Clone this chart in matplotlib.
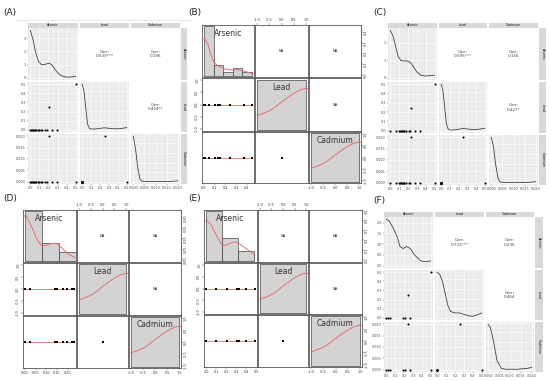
import numpy as np
import matplotlib.pyplot as plt
from matplotlib.ticker import AutoMinorLocator, FormatStrFormatter
from matplotlib.lines import Line2D

W, H = 550, 381
VARS = ["Arsenic", "Lead", "Cadmium"]

# ---------------- ggpairs panels (A, C, F) ----------------
# panel A
a_arsenic = [0.00, 0.01, 0.02, 0.03, 0.04, 0.05, 0.06, 0.08, 0.10, 0.12, 0.13, 0.16, 0.18, 0.21, 0.24, 0.29, 0.50]
a_lead    = [0, 0, 0, 0, 0, 0, 0, 0, 0, 0, 0, 0, 0, 0.25, 0, 0, 0.50]
a_cadmium = [0, 0, 0, 0, 0, 0, 0, 0, 0, 0, 0, 0, 0, 0.020, 0, 0, 0]
a_as_kx = [0.00, 0.03, 0.06, 0.09, 0.12, 0.15, 0.18, 0.21, 0.24, 0.27, 0.30, 0.34, 0.38, 0.42, 0.46, 0.50]
a_as_ky = [3.6, 2.9, 1.9, 1.25, 1.0, 0.98, 1.05, 1.1, 0.95, 0.65, 0.38, 0.15, 0.06, 0.04, 0.05, 0.1]
a_pb_kx = [0.00, 0.02, 0.04, 0.06, 0.08, 0.10, 0.15, 0.20, 0.25, 0.30, 0.35, 0.40, 0.45, 0.50]
a_pb_ky = [9.5, 8.0, 4.5, 1.2, 0.3, 0.15, 0.15, 0.3, 0.4, 0.3, 0.2, 0.2, 0.3, 0.45]
a_cd_kx = [0.000, 0.001, 0.002, 0.003, 0.004, 0.005, 0.0075, 0.010, 0.0125, 0.015, 0.0175, 0.020]
a_cd_ky = [950, 700, 300, 60, 10, 3, 2, 2, 2, 3, 8, 18]
a_corr = ["Corr:\n0.539***", "Corr:\n0.196", "Corr:\n0.424**"]

# panel C
c_arsenic = [0.00, 0.06, 0.10, 0.11, 0.12, 0.13, 0.14, 0.15, 0.16, 0.18, 0.21, 0.22, 0.23, 0.28, 0.33, 0.50]
c_lead    = [0, 0, 0, 0, 0, 0, 0, 0, 0, 0, 0, 0, 0.25, 0, 0, 0.50]
c_cadmium = [0, 0, 0, 0, 0, 0, 0, 0, 0, 0, 0, 0, 0.020, 0, 0, 0]
c_as_kx = [0.00, 0.03, 0.06, 0.09, 0.12, 0.15, 0.18, 0.21, 0.24, 0.27, 0.30, 0.34, 0.38, 0.42, 0.46, 0.50]
c_as_ky = [2.7, 2.4, 1.8, 1.2, 0.98, 0.95, 0.96, 0.92, 0.78, 0.55, 0.32, 0.15, 0.1, 0.1, 0.12, 0.15]
c_pb_kx = [0.00, 0.02, 0.04, 0.06, 0.08, 0.10, 0.15, 0.20, 0.25, 0.30, 0.35, 0.40, 0.45, 0.50]
c_pb_ky = [9.5, 8.2, 4.8, 1.4, 0.35, 0.15, 0.15, 0.3, 0.45, 0.35, 0.25, 0.25, 0.35, 0.5]
c_cd_kx = [0.000, 0.001, 0.002, 0.003, 0.004, 0.005, 0.0075, 0.010, 0.0125, 0.015, 0.0175, 0.020]
c_cd_ky = [950, 760, 380, 100, 20, 5, 2, 2, 2, 4, 10, 22]
c_corr = ["Corr:\n0.595***", "Corr:\n0.156", "Corr:\n0.427*"]

# panel F
f_arsenic = [0.00, 0.02, 0.045, 0.19, 0.21, 0.24, 0.27, 0.50]
f_lead    = [0, 0, 0, 0, 0, 0.25, 0, 0.50]
f_cadmium = [0, 0, 0, 0, 0, 0.020, 0, 0]
f_as_kx = [0.00, 0.03, 0.06, 0.09, 0.12, 0.155, 0.19, 0.23, 0.27, 0.32, 0.38, 0.41, 0.45, 0.50]
f_as_ky = [2.16, 2.1, 1.9, 1.65, 1.37, 0.89, 0.8, 0.89, 0.8, 0.49, 0.25, 0.2, 0.2, 0.22]
f_pb_kx = [0.00, 0.03, 0.06, 0.09, 0.12, 0.15, 0.20, 0.25, 0.30, 0.35, 0.40, 0.45, 0.50]
f_pb_ky = [9.5, 9.0, 7.5, 5.0, 2.5, 1.3, 1.0, 1.0, 0.7, 0.4, 0.3, 0.6, 1.0]
f_cd_kx = [0.000, 0.001, 0.0025, 0.004, 0.006, 0.008, 0.010, 0.013, 0.016, 0.018, 0.020]
f_cd_ky = [97, 90, 60, 20, 3, 1, 1, 1, 2, 3, 5]
f_corr = ["Corr:\n0.733***", "Corr:\n0.236", "Corr:\n0.464"]

gg_ticks = [[0.0, 0.1, 0.2, 0.3, 0.4, 0.5],
            [0.0, 0.1, 0.2, 0.3, 0.4, 0.5],
            [0.000, 0.005, 0.010, 0.015, 0.020]]
gg_fmts = ["%.1f", "%.1f", "%.3f"]
a_dens_ticks = [0, 1, 2, 3]
c_dens_ticks = [0, 1, 2]
f_dens_ticks = [0.0, 0.5, 1.0, 1.5, 2.0]

# ---------------- psych pairs.panels (B, D, E) ----------------
b_arsenic = [0.0, 0.01, 0.045, 0.10, 0.13, 0.15, 0.24, 0.37, 0.45]
b_lead = [0] * 9
b_cadmium = [0] * 9
b_hist_edges = [0.0, 0.09, 0.18, 0.27, 0.36, 0.45]
b_hist_h = [1.0, 0.22, 0.08, 0.15, 0.07]
b_dens_x = [-0.019, 0.006, 0.037, 0.069, 0.094, 0.13, 0.19, 0.26, 0.32, 0.38, 0.46]
b_dens_y = [0.74, 0.76, 0.64, 0.40, 0.27, 0.20, 0.135, 0.115, 0.115, 0.09, 0.03]
b_as_ticks = [0.0, 0.1, 0.2, 0.3, 0.4]

d_arsenic = [0.0, 0.023, 0.14, 0.148, 0.177, 0.198, 0.219, 0.23]
d_lead = [0] * 8
d_cadmium = [0] * 8
d_hist_edges = [0.0, 0.08, 0.16, 0.24]
d_hist_h = [1.0, 0.35, 0.17]
d_dens_x = [-0.005, 0.005, 0.031, 0.055, 0.078, 0.10, 0.125, 0.148, 0.17, 0.203, 0.234]
d_dens_y = [0.90, 0.93, 0.69, 0.44, 0.30, 0.31, 0.35, 0.35, 0.27, 0.13, 0.06]
d_as_ticks = [0.00, 0.05, 0.10, 0.15, 0.20]

e_arsenic = [0.0, 0.10, 0.21, 0.31, 0.33, 0.40, 0.49]
e_lead = [0] * 7
e_cadmium = [0] * 7
e_hist_edges = [0.0, 0.16, 0.32, 0.48]
e_hist_h = [1.0, 0.46, 0.19]
e_dens_x = [-0.01, 0.01, 0.05, 0.10, 0.157, 0.20, 0.25, 0.30, 0.35, 0.417, 0.49]
e_dens_y = [0.80, 0.81, 0.73, 0.53, 0.32, 0.31, 0.36, 0.38, 0.32, 0.22, 0.11]
e_as_ticks = [0.0, 0.1, 0.2, 0.3, 0.4, 0.5]

# histogram box + density of a constant variable (Lead, Cadmium)
const_edges = [-1.0, 1.0]
const_h = [1.0]
const_dens_x = [-1.0, -0.8, -0.6, -0.4, -0.2, 0.0, 0.2, 0.4, 0.6, 0.8, 1.0, 1.08]
const_dens_y = [0.28, 0.31, 0.35, 0.40, 0.47, 0.55, 0.62, 0.69, 0.75, 0.80, 0.82, 0.82]
const_ticks = [-1.0, -0.5, 0.0, 0.5, 1.0]

RED = "#E07070"

fig = plt.figure(figsize=(5.5, 3.81), dpi=100)


def px_axes(x0, y0, x1, y1):
    return fig.add_axes([x0 / W, 1 - y1 / H, (x1 - x0) / W, (y1 - y0) / H])


def expand(lo, hi, f=0.05):
    r = hi - lo
    return lo - f * r, hi + f * r


def draw_ggpairs(cols, rows, strip_y, strip_x, data, dens, corr, dens_ticks):
    lims = [expand(min(v), max(v)) for v in data]
    k = 0
    for i in range(3):
        for j in range(3):
            ax = px_axes(cols[j][0], rows[i][0], cols[j][1], rows[i][1])
            for s in ax.spines.values():
                s.set_visible(False)
            if i < j:
                ax.set_xticks([])
                ax.set_yticks([])
                ax.text(0.5, 0.5, corr[k], ha="center", va="center",
                        fontsize=3, color="#444444", linespacing=1.1)
                k += 1
                continue
            ax.set_facecolor("#EBEBEB")
            ax.set_xlim(lims[j])
            if i == j:
                kx, ky = dens[i]
                ax.plot(kx, ky, color="#333333", lw=0.55)
                ax.set_ylim(expand(0, max(ky)))
                if i == 0:
                    ax.set_yticks(dens_ticks)
            else:
                ax.scatter(data[j], data[i], s=2.2, c="black", lw=0, zorder=3)
                ax.set_ylim(lims[i])
                ax.set_yticks(gg_ticks[i])
                ax.yaxis.set_major_formatter(FormatStrFormatter(gg_fmts[i]))
            ax.set_xticks(gg_ticks[j])
            ax.xaxis.set_major_formatter(FormatStrFormatter(gg_fmts[j]))
            ax.xaxis.set_minor_locator(AutoMinorLocator(2))
            ax.yaxis.set_minor_locator(AutoMinorLocator(2))
            ax.grid(True, which="major", color="white", lw=0.45)
            ax.grid(True, which="minor", color="white", lw=0.2)
            ax.set_axisbelow(True)
            ax.tick_params(which="minor", length=0)
            ax.tick_params(which="major", length=1, width=0.3, color="#333333",
                           labelsize=2.4, labelcolor="#4D4D4D", pad=0.6)
            ax.tick_params(axis="x", bottom=(i == 2), labelbottom=(i == 2))
            ax.tick_params(axis="y", left=(j == 0), labelleft=(j == 0))
    for j in range(3):
        st = px_axes(cols[j][0], strip_y[0], cols[j][1], strip_y[1])
        st.set_facecolor("#D9D9D9")
        st.set_xticks([])
        st.set_yticks([])
        for s in st.spines.values():
            s.set_visible(False)
        st.text(0.5, 0.5, VARS[j], ha="center", va="center", fontsize=2.3, color="#1A1A1A")
    for i in range(3):
        st = px_axes(strip_x[0], rows[i][0], strip_x[1], rows[i][1])
        st.set_facecolor("#D9D9D9")
        st.set_xticks([])
        st.set_yticks([])
        for s in st.spines.values():
            s.set_visible(False)
        st.text(0.5, 0.5, VARS[i], ha="center", va="center", rotation=-90,
                fontsize=2.3, color="#1A1A1A")


def draw_pairs(cols, rows, data, ticks, fmts, hist, dens):
    lims = []
    for v in data:
        lo, hi = min(v), max(v)
        if hi == lo:
            lo, hi = lo - 1, hi + 1
        lims.append(expand(lo, hi, 0.04))
    for i in range(3):
        for j in range(3):
            ax = px_axes(cols[j][0], rows[i][0], cols[j][1], rows[i][1])
            ax.set_xlim(lims[j])
            ax.set_ylim(lims[i])
            for s in ax.spines.values():
                s.set_color("#555555")
                s.set_linewidth(0.6)
            if i == j:
                h = ax.inset_axes([0, 0, 1, 1])
                h.set_axis_off()
                h.patch.set_alpha(0)
                edges, heights = hist[i]
                h.bar(edges[:-1], heights, width=np.diff(edges), align="edge",
                      color="#D3D3D3", edgecolor="#333333", lw=0.45)
                dx, dy = dens[i]
                h.plot(dx, dy, color=RED, lw=0.7)
                h.set_xlim(lims[j])
                h.set_ylim(expand(0, max(heights), 0.03))
                h.text(0.5, 0.83, VARS[i], transform=h.transAxes, ha="center",
                       va="center", fontsize=5.5, color="#333333")
            elif i < j:
                ax.text(0.5, 0.5, "NA", transform=ax.transAxes, ha="center",
                        va="center", fontsize=2.6, color="#222222")
            else:
                x, y = data[j], data[i]
                ax.plot([min(x), max(x)], [np.mean(y)] * 2, color=RED, lw=0.6, zorder=2)
                ax.scatter(x, y, s=2.5, c="black", marker="s", lw=0, zorder=3)
            top = i == 0 and j % 2 == 1
            bottom = i == 2 and j % 2 == 0
            left = j == 0 and i % 2 == 1
            right = j == 2 and i % 2 == 0
            ax.set_xticks(ticks[j] if (top or bottom) else [])
            ax.set_yticks(ticks[i] if (left or right) else [])
            ax.xaxis.set_major_formatter(FormatStrFormatter(fmts[j]))
            ax.yaxis.set_major_formatter(FormatStrFormatter(fmts[i]))
            ax.tick_params(length=1.2, width=0.3, color="#333333", labelsize=2.4,
                           labelcolor="#333333", pad=0.8, direction="out")
            ax.tick_params(axis="x", top=top, labeltop=top, bottom=bottom, labelbottom=bottom)
            ax.tick_params(axis="y", left=left, labelleft=left, right=right,
                           labelright=right, labelrotation=90)
            for lab in ax.get_yticklabels():
                lab.set_va("center")


# ---- (A)
draw_ggpairs(cols=[(28, 78), (80, 129), (131, 180)],
             rows=[(28, 80), (82, 132), (134, 184)],
             strip_y=(23, 28), strip_x=(181, 187),
             data=[a_arsenic, a_lead, a_cadmium],
             dens=[(a_as_kx, a_as_ky), (a_pb_kx, a_pb_ky), (a_cd_kx, a_cd_ky)],
             corr=a_corr, dens_ticks=a_dens_ticks)
fig.add_artist(Line2D([17 / W, 190 / W], [1 - 20 / H, 1 - 20 / H], color="#DDDDDD", lw=0.5))

# ---- (C)
draw_ggpairs(cols=[(388, 437), (439, 487), (489, 538)],
             rows=[(28, 80), (82, 133), (135, 185)],
             strip_y=(23, 28), strip_x=(539, 546),
             data=[c_arsenic, c_lead, c_cadmium],
             dens=[(c_as_kx, c_as_ky), (c_pb_kx, c_pb_ky), (c_cd_kx, c_cd_ky)],
             corr=c_corr, dens_ticks=c_dens_ticks)

# ---- (F)
draw_ggpairs(cols=[(384, 433), (435, 484), (486, 534)],
             rows=[(217, 268), (270, 320), (322, 372)],
             strip_y=(212, 217), strip_x=(535, 543),
             data=[f_arsenic, f_lead, f_cadmium],
             dens=[(f_as_kx, f_as_ky), (f_pb_kx, f_pb_ky), (f_cd_kx, f_cd_ky)],
             corr=f_corr, dens_ticks=f_dens_ticks)

# ---- (B)
draw_pairs(cols=[(202, 254), (255, 308), (309, 361)],
           rows=[(25, 77), (78, 131), (132, 183)],
           data=[b_arsenic, b_lead, b_cadmium],
           ticks=[b_as_ticks, const_ticks, const_ticks],
           fmts=["%.1f", "%.1f", "%.1f"],
           hist=[(b_hist_edges, b_hist_h), (const_edges, const_h), (const_edges, const_h)],
           dens=[(b_dens_x, b_dens_y), (const_dens_x, const_dens_y), (const_dens_x, const_dens_y)])

# ---- (D)
draw_pairs(cols=[(23, 76), (77, 128), (129, 181)],
           rows=[(210, 262), (263, 315), (316, 368)],
           data=[d_arsenic, d_lead, d_cadmium],
           ticks=[d_as_ticks, const_ticks, const_ticks],
           fmts=["%.2f", "%.1f", "%.1f"],
           hist=[(d_hist_edges, d_hist_h), (const_edges, const_h), (const_edges, const_h)],
           dens=[(d_dens_x, d_dens_y), (const_dens_x, const_dens_y), (const_dens_x, const_dens_y)])

# ---- (E)
draw_pairs(cols=[(204, 257), (258, 308), (309, 362)],
           rows=[(210, 262), (263, 314), (315, 367)],
           data=[e_arsenic, e_lead, e_cadmium],
           ticks=[e_as_ticks, const_ticks, const_ticks],
           fmts=["%.1f", "%.1f", "%.1f"],
           hist=[(e_hist_edges, e_hist_h), (const_edges, const_h), (const_edges, const_h)],
           dens=[(e_dens_x, e_dens_y), (const_dens_x, const_dens_y), (const_dens_x, const_dens_y)])

# panel letters
for lab, x, y in [("(A)", 3, 12), ("(B)", 188, 12), ("(C)", 373, 12),
                  ("(D)", 3, 198), ("(E)", 188, 198), ("(F)", 373, 200)]:
    fig.text(x / W, 1 - y / H, lab, ha="left", va="center", fontsize=6.5, color="#222222")

fig.savefig("out.png", dpi=100)
